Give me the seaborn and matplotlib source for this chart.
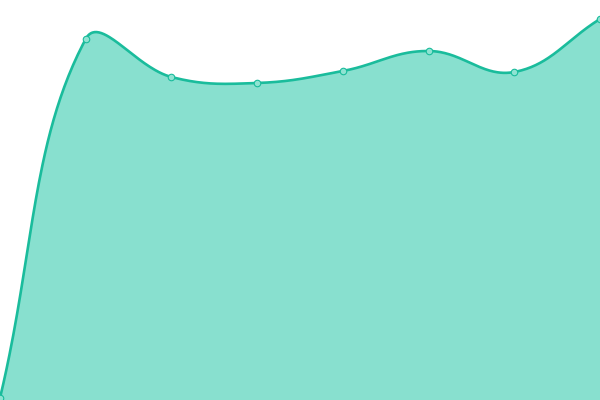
import numpy as np
import pandas as pd
import matplotlib
matplotlib.use("Agg")
import matplotlib.pyplot as plt
import seaborn as sns

# data (height above the bottom edge)
x_pos = [0, 1, 2, 3, 4, 5, 6, 7]
values = [2, 361, 323, 317, 329, 349, 328, 381]

line_color = "#1abc9c"
fill_color = "#88e0cf"
marker_face = "#8fe3d2"

X_SCALE = 600 / 7  # pixels per x unit, y is already in pixels


def smooth(xs, ys, tension=0.4, n=60):
    # bezier spline with control points like chart.js (in pixel space)
    P = np.column_stack([np.array(xs, float) * X_SCALE, np.array(ys, float)])
    cps = []
    for i in range(len(P)):
        prev = P[max(i - 1, 0)]
        nxt = P[min(i + 1, len(P) - 1)]
        cur = P[i]
        d01 = np.hypot(*(cur - prev))
        d12 = np.hypot(*(nxt - cur))
        tot = d01 + d12
        fa = tension * d01 / tot if tot else 0
        fb = tension * d12 / tot if tot else 0
        cps.append((cur - fa * (nxt - prev), cur + fb * (nxt - prev)))
    pts = []
    for i in range(len(P) - 1):
        p0, p3 = P[i], P[i + 1]
        c1, c2 = cps[i][1], cps[i + 1][0]
        t = np.linspace(0, 1, n)[:, None]
        pts.append((1 - t) ** 3 * p0 + 3 * (1 - t) ** 2 * t * c1
                   + 3 * (1 - t) * t ** 2 * c2 + t ** 3 * p3)
    pts = np.vstack(pts)
    return pts[:, 0] / X_SCALE, pts[:, 1]


sx, sy = smooth(x_pos, values)
curve = pd.DataFrame({"x": sx, "y": sy})
points = pd.DataFrame({"x": x_pos, "y": values})

sns.set_style("white")
fig = plt.figure(figsize=(6, 4), dpi=100)
ax = fig.add_axes([0, 0, 1, 1])

ax.fill_between(curve["x"], curve["y"], 0, color=fill_color, linewidth=0)
sns.lineplot(data=curve, x="x", y="y", ax=ax, color=line_color,
             linewidth=1.9, sort=False, estimator=None)
sns.scatterplot(data=points, x="x", y="y", ax=ax, s=22, color=marker_face,
                edgecolor=line_color, linewidth=0.8, zorder=5, clip_on=False)

ax.set_xlim(0, 7)
ax.set_ylim(0, 400)
ax.axis("off")

fig.savefig("out.png", dpi=100)
